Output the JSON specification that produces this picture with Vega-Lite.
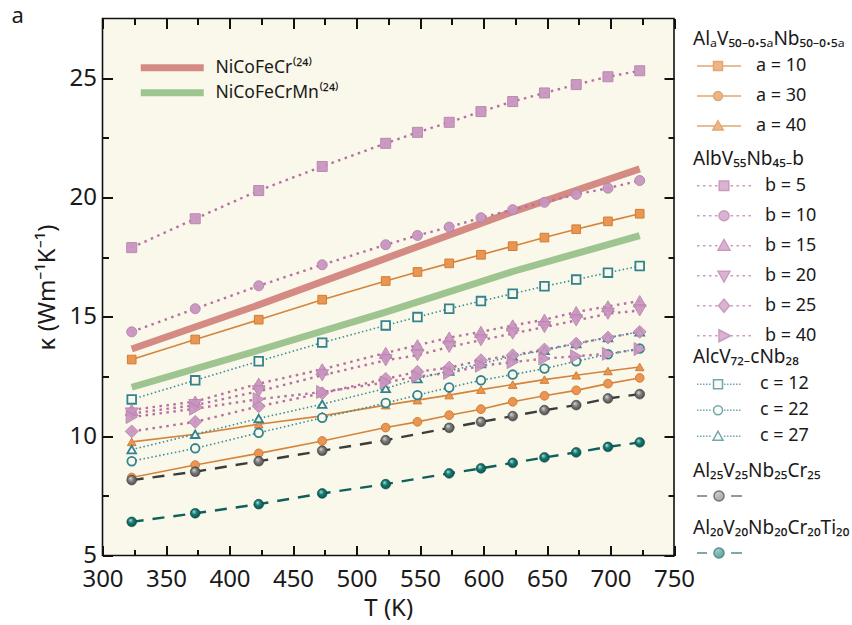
{
  "$schema": "https://vega.github.io/schema/vega-lite/v6.json",
  "width": 571.5,
  "height": 537,
  "autosize": {"type": "none"},
  "padding": {"left": 102.5, "top": 18.5, "right": 178, "bottom": 69.5},
  "background": "white",
  "title": {"text": "a", "anchor": "start", "frame": "group", "orient": "top", "fontSize": 22, "fontWeight": "normal", "font": "Noto Sans", "color": "#1a1a1a", "dx": -91, "offset": -10},
  "datasets": {
    "ref": [
      {"s": "NiCoFeCr⁽²⁴⁾", "T": 323, "k": 13.65}, {"s": "NiCoFeCr⁽²⁴⁾", "T": 423, "k": 15.5}, {"s": "NiCoFeCr⁽²⁴⁾", "T": 523, "k": 17.45}, {"s": "NiCoFeCr⁽²⁴⁾", "T": 623, "k": 19.4}, {"s": "NiCoFeCr⁽²⁴⁾", "T": 723, "k": 21.2},
      {"s": "NiCoFeCrMn⁽²⁴⁾", "T": 323, "k": 12.05}, {"s": "NiCoFeCrMn⁽²⁴⁾", "T": 423, "k": 13.6}, {"s": "NiCoFeCrMn⁽²⁴⁾", "T": 523, "k": 15.2}, {"s": "NiCoFeCrMn⁽²⁴⁾", "T": 623, "k": 16.9}, {"s": "NiCoFeCrMn⁽²⁴⁾", "T": 723, "k": 18.4}
    ],
    "A": [
      {"s": "a = 10", "T": 323, "k": 13.21}, {"s": "a = 10", "T": 373, "k": 14.05}, {"s": "a = 10", "T": 423, "k": 14.88}, {"s": "a = 10", "T": 473, "k": 15.72}, {"s": "a = 10", "T": 523, "k": 16.5}, {"s": "a = 10", "T": 548, "k": 16.88}, {"s": "a = 10", "T": 573, "k": 17.24}, {"s": "a = 10", "T": 598, "k": 17.6}, {"s": "a = 10", "T": 623, "k": 17.96}, {"s": "a = 10", "T": 648, "k": 18.32}, {"s": "a = 10", "T": 673, "k": 18.67}, {"s": "a = 10", "T": 698, "k": 19.0}, {"s": "a = 10", "T": 723, "k": 19.32},
      {"s": "a = 30", "T": 323, "k": 8.27}, {"s": "a = 30", "T": 373, "k": 8.79}, {"s": "a = 30", "T": 423, "k": 9.28}, {"s": "a = 30", "T": 473, "k": 9.8}, {"s": "a = 30", "T": 523, "k": 10.36}, {"s": "a = 30", "T": 548, "k": 10.6}, {"s": "a = 30", "T": 573, "k": 10.88}, {"s": "a = 30", "T": 598, "k": 11.13}, {"s": "a = 30", "T": 623, "k": 11.44}, {"s": "a = 30", "T": 648, "k": 11.69}, {"s": "a = 30", "T": 673, "k": 11.92}, {"s": "a = 30", "T": 698, "k": 12.2}, {"s": "a = 30", "T": 723, "k": 12.44},
      {"s": "a = 40", "T": 323, "k": 9.76}, {"s": "a = 40", "T": 373, "k": 10.08}, {"s": "a = 40", "T": 423, "k": 10.5}, {"s": "a = 40", "T": 473, "k": 10.85}, {"s": "a = 40", "T": 523, "k": 11.3}, {"s": "a = 40", "T": 548, "k": 11.51}, {"s": "a = 40", "T": 573, "k": 11.72}, {"s": "a = 40", "T": 598, "k": 11.95}, {"s": "a = 40", "T": 623, "k": 12.16}, {"s": "a = 40", "T": 648, "k": 12.37}, {"s": "a = 40", "T": 673, "k": 12.55}, {"s": "a = 40", "T": 698, "k": 12.73}, {"s": "a = 40", "T": 723, "k": 12.9}
    ],
    "B": [
      {"s": "b = 5", "T": 323, "k": 17.9}, {"s": "b = 5", "T": 373, "k": 19.11}, {"s": "b = 5", "T": 423, "k": 20.29}, {"s": "b = 5", "T": 473, "k": 21.3}, {"s": "b = 5", "T": 523, "k": 22.27}, {"s": "b = 5", "T": 548, "k": 22.73}, {"s": "b = 5", "T": 573, "k": 23.15}, {"s": "b = 5", "T": 598, "k": 23.6}, {"s": "b = 5", "T": 623, "k": 24.02}, {"s": "b = 5", "T": 648, "k": 24.38}, {"s": "b = 5", "T": 673, "k": 24.73}, {"s": "b = 5", "T": 698, "k": 25.06}, {"s": "b = 5", "T": 723, "k": 25.31},
      {"s": "b = 10", "T": 323, "k": 14.37}, {"s": "b = 10", "T": 373, "k": 15.34}, {"s": "b = 10", "T": 423, "k": 16.3}, {"s": "b = 10", "T": 473, "k": 17.18}, {"s": "b = 10", "T": 523, "k": 18.02}, {"s": "b = 10", "T": 548, "k": 18.41}, {"s": "b = 10", "T": 573, "k": 18.76}, {"s": "b = 10", "T": 598, "k": 19.15}, {"s": "b = 10", "T": 623, "k": 19.49}, {"s": "b = 10", "T": 648, "k": 19.8}, {"s": "b = 10", "T": 673, "k": 20.13}, {"s": "b = 10", "T": 698, "k": 20.39}, {"s": "b = 10", "T": 723, "k": 20.71},
      {"s": "b = 15", "T": 323, "k": 11.1}, {"s": "b = 15", "T": 373, "k": 11.45}, {"s": "b = 15", "T": 423, "k": 12.2}, {"s": "b = 15", "T": 473, "k": 12.8}, {"s": "b = 15", "T": 523, "k": 13.49}, {"s": "b = 15", "T": 548, "k": 13.81}, {"s": "b = 15", "T": 573, "k": 14.13}, {"s": "b = 15", "T": 598, "k": 14.37}, {"s": "b = 15", "T": 623, "k": 14.64}, {"s": "b = 15", "T": 648, "k": 14.88}, {"s": "b = 15", "T": 673, "k": 15.2}, {"s": "b = 15", "T": 698, "k": 15.44}, {"s": "b = 15", "T": 723, "k": 15.66},
      {"s": "b = 20", "T": 323, "k": 10.95}, {"s": "b = 20", "T": 373, "k": 11.3}, {"s": "b = 20", "T": 423, "k": 11.88}, {"s": "b = 20", "T": 473, "k": 12.55}, {"s": "b = 20", "T": 523, "k": 13.18}, {"s": "b = 20", "T": 548, "k": 13.39}, {"s": "b = 20", "T": 573, "k": 13.74}, {"s": "b = 20", "T": 598, "k": 14.02}, {"s": "b = 20", "T": 623, "k": 14.3}, {"s": "b = 20", "T": 648, "k": 14.57}, {"s": "b = 20", "T": 673, "k": 14.85}, {"s": "b = 20", "T": 698, "k": 15.13}, {"s": "b = 20", "T": 723, "k": 15.27},
      {"s": "b = 25", "T": 323, "k": 10.2}, {"s": "b = 25", "T": 373, "k": 10.6}, {"s": "b = 25", "T": 423, "k": 11.25}, {"s": "b = 25", "T": 473, "k": 11.8}, {"s": "b = 25", "T": 523, "k": 12.4}, {"s": "b = 25", "T": 548, "k": 12.7}, {"s": "b = 25", "T": 573, "k": 12.87}, {"s": "b = 25", "T": 598, "k": 13.18}, {"s": "b = 25", "T": 623, "k": 13.39}, {"s": "b = 25", "T": 648, "k": 13.63}, {"s": "b = 25", "T": 673, "k": 13.88}, {"s": "b = 25", "T": 698, "k": 14.13}, {"s": "b = 25", "T": 723, "k": 14.37},
      {"s": "b = 40", "T": 323, "k": 10.8}, {"s": "b = 40", "T": 373, "k": 11.15}, {"s": "b = 40", "T": 423, "k": 11.55}, {"s": "b = 40", "T": 473, "k": 11.85}, {"s": "b = 40", "T": 523, "k": 12.25}, {"s": "b = 40", "T": 548, "k": 12.5}, {"s": "b = 40", "T": 573, "k": 12.65}, {"s": "b = 40", "T": 598, "k": 12.95}, {"s": "b = 40", "T": 623, "k": 13.1}, {"s": "b = 40", "T": 648, "k": 13.25}, {"s": "b = 40", "T": 673, "k": 13.35}, {"s": "b = 40", "T": 698, "k": 13.45}, {"s": "b = 40", "T": 723, "k": 13.65}
    ],
    "C": [
      {"s": "c = 12", "T": 323, "k": 11.54}, {"s": "c = 12", "T": 373, "k": 12.34}, {"s": "c = 12", "T": 423, "k": 13.14}, {"s": "c = 12", "T": 473, "k": 13.92}, {"s": "c = 12", "T": 523, "k": 14.64}, {"s": "c = 12", "T": 548, "k": 14.99}, {"s": "c = 12", "T": 573, "k": 15.34}, {"s": "c = 12", "T": 598, "k": 15.66}, {"s": "c = 12", "T": 623, "k": 15.97}, {"s": "c = 12", "T": 648, "k": 16.28}, {"s": "c = 12", "T": 673, "k": 16.56}, {"s": "c = 12", "T": 698, "k": 16.85}, {"s": "c = 12", "T": 723, "k": 17.13},
      {"s": "c = 22", "T": 323, "k": 8.95}, {"s": "c = 22", "T": 373, "k": 9.49}, {"s": "c = 22", "T": 423, "k": 10.14}, {"s": "c = 22", "T": 473, "k": 10.77}, {"s": "c = 22", "T": 523, "k": 11.39}, {"s": "c = 22", "T": 548, "k": 11.72}, {"s": "c = 22", "T": 573, "k": 12.04}, {"s": "c = 22", "T": 598, "k": 12.34}, {"s": "c = 22", "T": 623, "k": 12.58}, {"s": "c = 22", "T": 648, "k": 12.83}, {"s": "c = 22", "T": 673, "k": 13.14}, {"s": "c = 22", "T": 698, "k": 13.43}, {"s": "c = 22", "T": 723, "k": 13.67},
      {"s": "c = 27", "T": 323, "k": 9.44}, {"s": "c = 27", "T": 373, "k": 10.08}, {"s": "c = 27", "T": 423, "k": 10.74}, {"s": "c = 27", "T": 473, "k": 11.34}, {"s": "c = 27", "T": 523, "k": 12.0}, {"s": "c = 27", "T": 548, "k": 12.41}, {"s": "c = 27", "T": 573, "k": 12.73}, {"s": "c = 27", "T": 598, "k": 13.04}, {"s": "c = 27", "T": 623, "k": 13.35}, {"s": "c = 27", "T": 648, "k": 13.6}, {"s": "c = 27", "T": 673, "k": 13.88}, {"s": "c = 27", "T": 698, "k": 14.13}, {"s": "c = 27", "T": 723, "k": 14.37}
    ],
    "Cr": [
      {"s": "Cr25", "T": 323, "k": 8.16}, {"s": "Cr25", "T": 373, "k": 8.51}, {"s": "Cr25", "T": 423, "k": 8.95}, {"s": "Cr25", "T": 473, "k": 9.39}, {"s": "Cr25", "T": 523, "k": 9.83}, {"s": "Cr25", "T": 573, "k": 10.35}, {"s": "Cr25", "T": 598, "k": 10.6}, {"s": "Cr25", "T": 623, "k": 10.84}, {"s": "Cr25", "T": 648, "k": 11.09}, {"s": "Cr25", "T": 673, "k": 11.3}, {"s": "Cr25", "T": 698, "k": 11.58}, {"s": "Cr25", "T": 723, "k": 11.76}
    ],
    "Ti": [
      {"s": "Ti20", "T": 323, "k": 6.41}, {"s": "Ti20", "T": 373, "k": 6.77}, {"s": "Ti20", "T": 423, "k": 7.15}, {"s": "Ti20", "T": 473, "k": 7.6}, {"s": "Ti20", "T": 523, "k": 7.99}, {"s": "Ti20", "T": 573, "k": 8.44}, {"s": "Ti20", "T": 598, "k": 8.65}, {"s": "Ti20", "T": 623, "k": 8.88}, {"s": "Ti20", "T": 648, "k": 9.11}, {"s": "Ti20", "T": 673, "k": 9.32}, {"s": "Ti20", "T": 698, "k": 9.55}, {"s": "Ti20", "T": 723, "k": 9.74}
    ]
  },
  "layer": [
    {
      "data": {"name": "ref"},
      "mark": {"type": "line", "strokeWidth": 7, "strokeCap": "butt"},
      "encoding": {
        "x": {"field": "T", "type": "quantitative", "scale": {"domain": [300, 750], "nice": false, "zero": false},
              "axis": {"orient": "bottom", "title": "T (K)", "values": [300, 350, 400, 450, 500, 550, 600, 650, 700, 750], "tickSize": 10, "offset": -10, "labelPadding": 12, "titlePadding": 5}},
        "y": {"field": "k", "type": "quantitative", "scale": {"domain": [5, 27.5], "nice": false, "zero": false},
              "axis": {"orient": "left", "title": "κ (Wm⁻¹K⁻¹)", "values": [5, 10, 15, 20, 25], "tickSize": 10, "offset": -10, "labelPadding": 6, "titlePadding": 10}},
        "color": {"field": "s", "type": "nominal", "scale": {"domain": ["NiCoFeCr⁽²⁴⁾", "NiCoFeCrMn⁽²⁴⁾"], "range": ["#D38B84", "#9EC490"]},
                  "legend": {"title": null, "legendX": 34.5, "legendY": 37, "symbolType": "M-1,0H11.6", "symbolStrokeWidth": 7, "clipHeight": 24.5, "labelOffset": 61, "labelFontSize": 17.5}}
      }
    },
    {
      "data": {"name": "A"},
      "mark": {"type": "line", "color": "#D5843B", "strokeWidth": 1.6},
      "encoding": {
        "x": {"field": "T", "type": "quantitative", "axis": {"orient": "top", "title": null, "labels": false, "values": [300, 350, 400, 450, 500, 550, 600, 650, 700, 750], "tickSize": 10, "offset": -10}},
        "y": {"field": "k", "type": "quantitative", "axis": {"orient": "right", "title": null, "labels": false, "values": [5, 10, 15, 20, 25], "tickSize": 10, "offset": -10}},
        "detail": {"field": "s"}
      }
    },
    {
      "data": {"name": "B"},
      "mark": {"type": "line", "color": "#B870A4", "strokeWidth": 2.4, "strokeDash": [2.5, 4.5]},
      "encoding": {
        "x": {"field": "T", "type": "quantitative", "axis": {"orient": "bottom", "title": null, "labels": false, "values": [325, 375, 425, 475, 525, 575, 625, 675, 725], "tickSize": 6, "offset": -6}},
        "y": {"field": "k", "type": "quantitative", "axis": {"orient": "left", "title": null, "labels": false, "values": [7.5, 12.5, 17.5, 22.5], "tickSize": 6, "offset": -6}},
        "detail": {"field": "s"}
      }
    },
    {
      "data": {"name": "C"},
      "mark": {"type": "line", "color": "#3A8C98", "strokeWidth": 1.6, "strokeDash": [1.5, 2.5]},
      "encoding": {
        "x": {"field": "T", "type": "quantitative", "axis": {"orient": "top", "title": null, "labels": false, "values": [325, 375, 425, 475, 525, 575, 625, 675, 725], "tickSize": 6, "offset": -6}},
        "y": {"field": "k", "type": "quantitative", "axis": {"orient": "right", "title": null, "labels": false, "values": [7.5, 12.5, 17.5, 22.5], "tickSize": 6, "offset": -6}},
        "detail": {"field": "s"}
      }
    },
    {
      "data": {"name": "Cr"},
      "mark": {"type": "line", "color": "#3c3c3c", "strokeWidth": 2.4, "strokeDash": [12, 9]},
      "encoding": {"x": {"field": "T", "type": "quantitative", "axis": null}, "y": {"field": "k", "type": "quantitative", "axis": null}}
    },
    {
      "data": {"name": "Ti"},
      "mark": {"type": "line", "color": "#0f5f5b", "strokeWidth": 2.4, "strokeDash": [12, 9]},
      "encoding": {"x": {"field": "T", "type": "quantitative", "axis": null}, "y": {"field": "k", "type": "quantitative", "axis": null}}
    },
    {
      "data": {"name": "A"},
      "mark": {"type": "point", "filled": true, "fill": "#EA9652", "stroke": "#D07D36", "strokeWidth": 1, "size": 75, "opacity": 1},
      "encoding": {"x": {"field": "T", "type": "quantitative", "axis": null}, "y": {"field": "k", "type": "quantitative", "axis": null},
                   "shape": {"field": "s", "type": "nominal", "scale": {"domain": ["a = 10", "a = 30", "a = 40"], "range": ["square", "circle", "triangle-up"]}, "legend": null}}
    },
    {
      "data": {"name": "C"},
      "mark": {"type": "point", "filled": true, "fill": "#FAF8EA", "stroke": "#32838F", "strokeWidth": 1.8, "size": 75, "opacity": 1},
      "encoding": {"x": {"field": "T", "type": "quantitative", "axis": null}, "y": {"field": "k", "type": "quantitative", "axis": null},
                   "shape": {"field": "s", "type": "nominal", "scale": {"domain": ["c = 12", "c = 22", "c = 27"], "range": ["square", "circle", "triangle-up"]}, "legend": null}}
    },
    {
      "data": {"name": "B"},
      "transform": [{"filter": {"field": "s", "oneOf": ["b = 5", "b = 10"]}}],
      "mark": {"type": "point", "filled": true, "fill": "#C995C0", "stroke": "#B883AD", "strokeWidth": 1, "size": 100, "opacity": 0.95},
      "encoding": {"x": {"field": "T", "type": "quantitative", "axis": null}, "y": {"field": "k", "type": "quantitative", "axis": null},
                   "shape": {"field": "s", "type": "nominal", "scale": {"domain": ["b = 5", "b = 10"], "range": ["square", "circle"]}, "legend": null}}
    },
    {
      "data": {"name": "B"},
      "transform": [{"filter": {"field": "s", "oneOf": ["b = 15", "b = 20", "b = 25", "b = 40"]}}],
      "mark": {"type": "point", "filled": true, "fill": "#C995C0", "stroke": "#B883AD", "strokeWidth": 1, "size": 165, "opacity": 0.92},
      "encoding": {"x": {"field": "T", "type": "quantitative", "axis": null}, "y": {"field": "k", "type": "quantitative", "axis": null},
                   "shape": {"field": "s", "type": "nominal", "scale": {"domain": ["b = 15", "b = 20", "b = 25", "b = 40"], "range": ["triangle-up", "triangle-down", "diamond", "triangle-right"]}, "legend": null}}
    },
    {
      "data": {"name": "Cr"},
      "mark": {"type": "point", "filled": true, "size": 95, "stroke": "#3a3a3a", "strokeWidth": 0.6, "opacity": 1,
               "fill": {"gradient": "radial", "x1": 0.35, "y1": 0.3, "r1": 0, "x2": 0.5, "y2": 0.5, "r2": 0.55, "stops": [{"offset": 0, "color": "#e2e2e2"}, {"offset": 0.45, "color": "#808080"}, {"offset": 1, "color": "#474747"}]}},
      "encoding": {"x": {"field": "T", "type": "quantitative", "axis": null}, "y": {"field": "k", "type": "quantitative", "axis": null}}
    },
    {
      "data": {"name": "Ti"},
      "mark": {"type": "point", "filled": true, "size": 95, "stroke": "#0a4a47", "strokeWidth": 0.6, "opacity": 1,
               "fill": {"gradient": "radial", "x1": 0.35, "y1": 0.3, "r1": 0, "x2": 0.5, "y2": 0.5, "r2": 0.55, "stops": [{"offset": 0, "color": "#c4ebe4"}, {"offset": 0.45, "color": "#177a73"}, {"offset": 1, "color": "#08504b"}]}},
      "encoding": {"x": {"field": "T", "type": "quantitative", "axis": null}, "y": {"field": "k", "type": "quantitative", "axis": null}}
    },
    {
      "data": {"name": "A"},
      "mark": {"type": "point", "filled": true, "size": 0, "fill": "#EA9652", "stroke": "#D5843B", "strokeWidth": 1.6},
      "encoding": {"x": {"field": "T", "type": "quantitative", "axis": null}, "y": {"field": "k", "type": "quantitative", "axis": null},
                   "shape": {"field": "s", "type": "nominal",
                             "scale": {"domain": ["a = 10", "a = 30", "a = 40"], "range": [
                               "M-1,0H2.3M4.1,0H7.8M2.3,-0.9H4.1V0.9H2.3Z",
                               "M-1,0H2.3M4.1,0H7.8M4.1,0A0.9,0.9,0,1,1,2.3,0A0.9,0.9,0,1,1,4.1,0Z",
                               "M-1,0H2.5M3.9,0H7.8M3.2,-1.05L4.25,0.8H2.15Z"]},
                             "legend": {"title": "AlₐV₅₀₋₀.₅ₐNb₅₀₋₀.₅ₐ", "legendX": 590.5, "legendY": 11.5, "clipHeight": 30, "labelOffset": 45, "titlePadding": 2, "symbolSize": 100}}}
    },
    {
      "data": {"name": "B"},
      "mark": {"type": "point", "filled": true, "size": 0, "fill": "#C995C0", "stroke": "#B870A4", "strokeWidth": 2.2},
      "encoding": {"x": {"field": "T", "type": "quantitative", "axis": null}, "y": {"field": "k", "type": "quantitative", "axis": null},
                   "shape": {"field": "s", "type": "nominal",
                             "scale": {"domain": ["b = 5", "b = 10", "b = 15", "b = 20", "b = 25", "b = 40"], "range": [
                               "M-1,0h0.5M0.2,0h0.5M1.4,0h0.5M2.6,0h0.5M5.7,0h0.5M6.9,0h0.5M8.1,0h0.5M9.3,0h0.5M3.45,-0.95H5.35V0.95H3.45Z",
                               "M-1,0h0.5M0.2,0h0.5M1.4,0h0.5M2.6,0h0.5M5.7,0h0.5M6.9,0h0.5M8.1,0h0.5M9.3,0h0.5M5.4,0A1,1,0,1,1,3.4,0A1,1,0,1,1,5.4,0Z",
                               "M-1,0h0.5M0.2,0h0.5M1.4,0h0.5M2.6,0h0.5M5.7,0h0.5M6.9,0h0.5M8.1,0h0.5M9.3,0h0.5M4.4,-1.25L5.6,0.9H3.2Z",
                               "M-1,0h0.5M0.2,0h0.5M1.4,0h0.5M2.6,0h0.5M5.7,0h0.5M6.9,0h0.5M8.1,0h0.5M9.3,0h0.5M4.4,1.25L5.6,-0.9H3.2Z",
                               "M-1,0h0.5M0.2,0h0.5M1.4,0h0.5M2.6,0h0.5M5.7,0h0.5M6.9,0h0.5M8.1,0h0.5M9.3,0h0.5M4.4,-1.3L5.5,0L4.4,1.3L3.3,0Z",
                               "M-1,0h0.5M0.2,0h0.5M1.4,0h0.5M2.6,0h0.5M5.7,0h0.5M6.9,0h0.5M8.1,0h0.5M9.3,0h0.5M5.7,0L3.4,1.2V-1.2Z"]},
                             "legend": {"title": "AlbV₅₅Nb₄₅₋b", "legendX": 590.5, "legendY": 131.5, "clipHeight": 29.5, "labelOffset": 54, "titlePadding": 2, "symbolSize": 100}}}
    },
    {
      "data": {"name": "C"},
      "mark": {"type": "point", "filled": true, "size": 0, "fill": "#FAF8EA", "stroke": "#32838F", "strokeWidth": 1.6},
      "encoding": {"x": {"field": "T", "type": "quantitative", "axis": null}, "y": {"field": "k", "type": "quantitative", "axis": null},
                   "shape": {"field": "s", "type": "nominal",
                             "scale": {"domain": ["c = 12", "c = 22", "c = 27"], "range": [
                               "M-1,0h0.3M-0.4,0h0.3M0.2,0h0.3M0.8,0h0.3M1.4,0h0.3M4.4,0h0.3M5,0h0.3M5.6,0h0.3M6.2,0h0.3M6.8,0h0.3M7.4,0h0.3M2.3,-0.9H4.1V0.9H2.3Z",
                               "M-1,0h0.3M-0.4,0h0.3M0.2,0h0.3M0.8,0h0.3M1.4,0h0.3M4.4,0h0.3M5,0h0.3M5.6,0h0.3M6.2,0h0.3M6.8,0h0.3M7.4,0h0.3M4.1,0A0.9,0.9,0,1,1,2.3,0A0.9,0.9,0,1,1,4.1,0Z",
                               "M-1,0h0.3M-0.4,0h0.3M0.2,0h0.3M0.8,0h0.3M1.4,0h0.3M4.4,0h0.3M5,0h0.3M5.6,0h0.3M6.2,0h0.3M6.8,0h0.3M7.4,0h0.3M3.2,-1L4.2,0.8H2.2Z"]},
                             "legend": {"title": "AlcV₇₂₋cNb₂₈", "legendX": 590.5, "legendY": 329, "clipHeight": 25.5, "labelOffset": 49, "titlePadding": 5, "symbolSize": 100}}}
    },
    {
      "data": {"name": "Cr"},
      "mark": {"type": "point", "filled": true, "size": 0, "stroke": "#3c3c3c", "strokeWidth": 2.4,
               "fill": {"gradient": "radial", "x1": 0.35, "y1": 0.3, "r1": 0, "x2": 0.5, "y2": 0.5, "r2": 0.55, "stops": [{"offset": 0, "color": "#e2e2e2"}, {"offset": 0.45, "color": "#808080"}, {"offset": 1, "color": "#474747"}]}},
      "encoding": {"x": {"field": "T", "type": "quantitative", "axis": null}, "y": {"field": "k", "type": "quantitative", "axis": null},
                   "shape": {"field": "s", "type": "nominal",
                             "scale": {"domain": ["Cr25"], "range": ["M-1,0H1M5.8,0H8M4.4,0A1,1,0,1,1,2.4,0A1,1,0,1,1,4.4,0Z"]},
                             "legend": {"title": "Al₂₅V₂₅Nb₂₅Cr₂₅", "legendX": 590.5, "legendY": 443, "clipHeight": 27, "labelExpr": "''", "labelOffset": 50, "titlePadding": 2, "symbolSize": 100}}}
    },
    {
      "data": {"name": "Ti"},
      "mark": {"type": "point", "filled": true, "size": 0, "stroke": "#0f5f5b", "strokeWidth": 2.4,
               "fill": {"gradient": "radial", "x1": 0.35, "y1": 0.3, "r1": 0, "x2": 0.5, "y2": 0.5, "r2": 0.55, "stops": [{"offset": 0, "color": "#c4ebe4"}, {"offset": 0.45, "color": "#177a73"}, {"offset": 1, "color": "#08504b"}]}},
      "encoding": {"x": {"field": "T", "type": "quantitative", "axis": null}, "y": {"field": "k", "type": "quantitative", "axis": null},
                   "shape": {"field": "s", "type": "nominal",
                             "scale": {"domain": ["Ti20"], "range": ["M-1,0H1M5.8,0H8M4.4,0A1,1,0,1,1,2.4,0A1,1,0,1,1,4.4,0Z"]},
                             "legend": {"title": "Al₂₀V₂₀Nb₂₀Cr₂₀Ti₂₀", "legendX": 590.5, "legendY": 500, "clipHeight": 27, "labelExpr": "''", "labelOffset": 50, "titlePadding": 2, "symbolSize": 100}}}
    }
  ],
  "resolve": {
    "scale": {"shape": "independent", "color": "independent"},
    "axis": {"x": "independent", "y": "independent"}
  },
  "config": {
    "view": {"fill": "#FAF8EA", "stroke": "#111111", "strokeWidth": 1.6},
    "font": "Noto Sans",
    "axis": {"labelFont": "Noto Sans", "labelFontSize": 24, "labelColor": "#1a1a1a", "titleFont": "Noto Sans", "titleFontSize": 24, "titleFontWeight": "normal", "titleColor": "#1a1a1a",
             "ticks": true, "tickColor": "#111111", "tickOpacity": 1, "tickWidth": 2, "domain": false, "grid": false, "labelFlush": false, "labelOverlap": false, "zindex": 1},
    "legend": {"orient": "none", "padding": 0, "rowPadding": 0, "labelFont": "Noto Sans", "labelFontSize": 18, "labelColor": "#1a1a1a",
               "titleFont": "Noto Sans", "titleFontSize": 19, "titleFontWeight": "normal", "titleColor": "#1a1a1a", "symbolSize": 100}
  }
}
